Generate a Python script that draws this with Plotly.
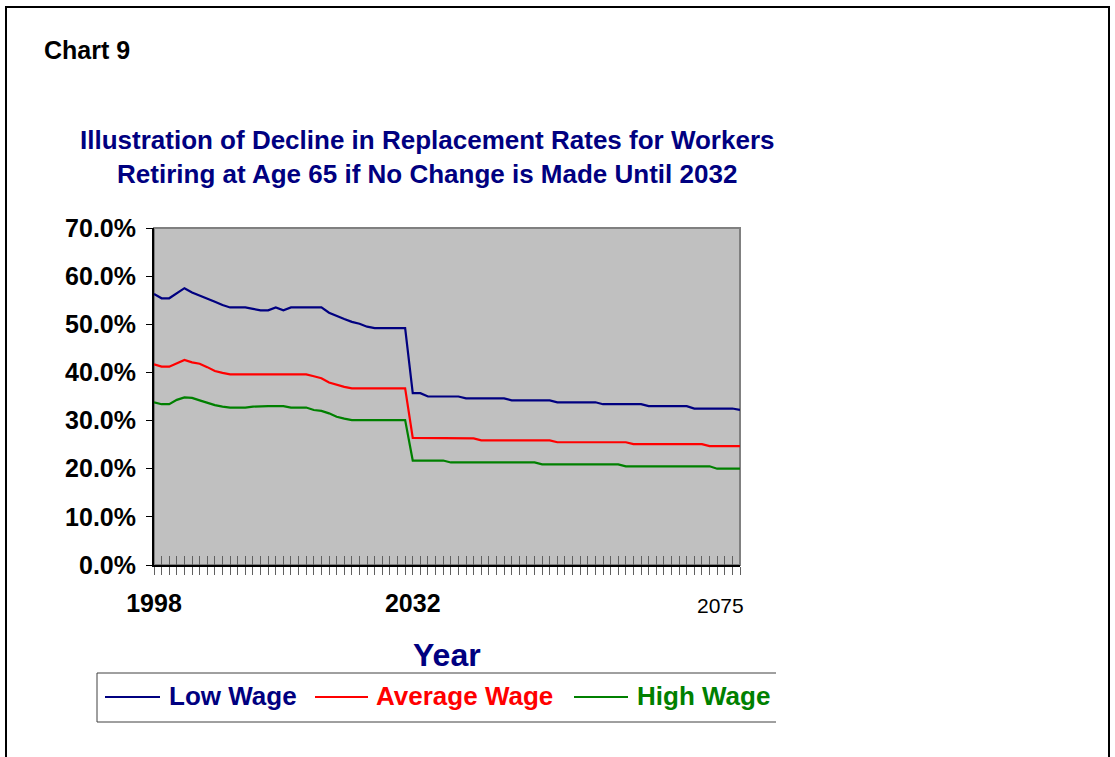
import plotly.graph_objects as go

# ---------------- data ----------------
years = list(range(1998, 2076))

low_wage = [56.3, 55.4, 55.4, 56.5, 57.5, 56.6, 56.0, 55.4, 54.7, 54.0,
            53.5, 53.5, 53.5, 53.2, 52.9, 52.9, 53.5, 52.9, 53.5, 53.5,
            53.5, 53.5, 53.5, 52.4, 51.7, 51.1, 50.5, 50.1, 49.5, 49.2,
            49.2, 49.2, 49.2, 49.2, 35.7, 35.7, 35.0, 35.0, 35.0, 35.0,
            35.0, 34.6, 34.6, 34.6, 34.6, 34.6, 34.6, 34.2, 34.2, 34.2,
            34.2, 34.2, 34.2, 33.8, 33.8, 33.8, 33.8, 33.8, 33.8, 33.4,
            33.4, 33.4, 33.4, 33.4, 33.4, 33.0, 33.0, 33.0, 33.0, 33.0,
            33.0, 32.5, 32.5, 32.5, 32.5, 32.5, 32.5, 32.2]

average_wage = [41.7, 41.2, 41.2, 41.9, 42.6, 42.1, 41.8, 41.1, 40.3, 39.9,
                39.6, 39.6, 39.6, 39.6, 39.6, 39.6, 39.6, 39.6, 39.6, 39.6,
                39.6, 39.2, 38.8, 37.9, 37.4, 37.0, 36.7, 36.7, 36.7, 36.7,
                36.7, 36.7, 36.7, 36.7, 26.4, 26.4, 26.4, 26.4, 26.4, 26.4,
                26.4, 26.4, 26.3, 25.9, 25.9, 25.9, 25.9, 25.9, 25.9, 25.9,
                25.9, 25.9, 25.9, 25.5, 25.5, 25.5, 25.5, 25.5, 25.5, 25.5,
                25.5, 25.5, 25.5, 25.1, 25.1, 25.1, 25.1, 25.1, 25.1, 25.1,
                25.1, 25.1, 25.1, 24.7, 24.7, 24.7, 24.7, 24.7]

high_wage = [33.8, 33.4, 33.4, 34.3, 34.8, 34.7, 34.2, 33.7, 33.2, 32.9,
             32.7, 32.7, 32.7, 32.9, 33.0, 33.0, 33.0, 33.0, 32.7, 32.7,
             32.7, 32.2, 32.0, 31.5, 30.8, 30.4, 30.1, 30.1, 30.1, 30.1,
             30.1, 30.1, 30.1, 30.1, 21.7, 21.7, 21.7, 21.7, 21.7, 21.3,
             21.3, 21.3, 21.3, 21.3, 21.3, 21.3, 21.3, 21.3, 21.3, 21.3,
             21.3, 20.9, 20.9, 20.9, 20.9, 20.9, 20.9, 20.9, 20.9, 20.9,
             20.9, 20.9, 20.5, 20.5, 20.5, 20.5, 20.5, 20.5, 20.5, 20.5,
             20.5, 20.5, 20.5, 20.5, 20.0, 20.0, 20.0, 20.0]

series_names = ["Low Wage", "Average Wage", "High Wage"]
series_colors = ["#000080", "#FF0000", "#008000"]
y_ticks = [0, 10, 20, 30, 40, 50, 60, 70]
x_labels = {1998: "1998", 2032: "2032"}
last_label = "2075"

# ---------------- layout geometry (pixels) ----------------
W_PX, H_PX = 1115, 757
L, R, T, B = 154, 740, 228, 565
PW, PH = R - L, B - T

def px(x):
    return (x - L) / PW

def py(y):
    return (B - y) / PH

FONT = "Liberation Sans, Arial, sans-serif"
NAVY = "#000080"

fig = go.Figure()
for name, vals, col in zip(series_names, [low_wage, average_wage, high_wage], series_colors):
    fig.add_trace(go.Scatter(x=years, y=vals, mode="lines", name=name,
                             line=dict(color=col, width=2.2), showlegend=False))

# invisible trace to carry the inner tick axis
fig.add_trace(go.Scatter(x=years, y=low_wage, xaxis="x2", mode="lines",
                         line=dict(width=0), opacity=0, showlegend=False,
                         hoverinfo="skip"))

tickvals = years
ticktext = [x_labels.get(y, "") for y in years]

fig.update_layout(
    width=W_PX, height=H_PX,
    margin=dict(l=L, r=W_PX - R, t=T, b=H_PX - B, pad=0),
    paper_bgcolor="white",
    plot_bgcolor="#C0C0C0",
    font=dict(family=FONT, color="black"),
    xaxis=dict(range=[1998, 2075], tickmode="array", tickvals=tickvals, ticktext=ticktext,
               ticks="outside", ticklen=8, tickcolor="#606060", tickwidth=1,
               showline=True, linecolor="black", linewidth=2,
               showgrid=False, zeroline=False,
               tickfont=dict(family=FONT, size=25, color="black", weight="bold"),
               ticklabelstandoff=7),
    xaxis2=dict(range=[1998, 2075], overlaying="x", anchor="y", side="bottom",
                tickmode="array", tickvals=tickvals, ticks="inside", ticklen=9,
                tickcolor="#606060", tickwidth=1, showticklabels=False,
                showline=False, showgrid=False, zeroline=False),
    yaxis=dict(range=[0, 70], tickmode="array", tickvals=y_ticks,
               ticktext=[f"{v:.1f}%" for v in y_ticks],
               ticks="outside", ticklen=6, tickcolor="black", tickwidth=1,
               showline=True, linecolor="black", linewidth=2,
               showgrid=False, zeroline=False,
               tickfont=dict(family=FONT, size=25, color="black", weight="bold"),
               ticklabelstandoff=5),
)

shapes = []
# plot-area border (gray top/right)
shapes.append(dict(type="rect", xref="paper", yref="paper", x0=0, x1=1, y0=0, y1=1,
                   line=dict(color="#808080", width=2), layer="below"))
# page frame
shapes.append(dict(type="path", xref="paper", yref="paper",
                   path=f"M {px(6)},{py(762)} L {px(6)},{py(7)} L {px(1109)},{py(7)} L {px(1109)},{py(762)}",
                   line=dict(color="black", width=2)))
# legend box (clipped at right)
shapes.append(dict(type="path", xref="paper", yref="paper",
                   path=f"M {px(776)},{py(673)} L {px(97)},{py(673)} L {px(97)},{py(722)} L {px(776)},{py(722)}",
                   line=dict(color="#404040", width=1)))
leg_lines = [(105, 160), (315, 368), (574, 628)]
leg_text_x = [167, 374, 635]
for (x0, x1), col in zip(leg_lines, series_colors):
    shapes.append(dict(type="line", xref="paper", yref="paper", x0=px(x0), x1=px(x1),
                       y0=py(697), y1=py(697), line=dict(color=col, width=2)))
fig.update_layout(shapes=shapes)

ann = []
ann.append(dict(text="Chart 9", xref="paper", yref="paper", x=px(42), y=py(50),
                xanchor="left", yanchor="middle", showarrow=False,
                font=dict(family=FONT, size=25, color="black", weight="bold")))
ann.append(dict(text="Illustration of Decline in Replacement Rates for Workers<br>"
                     "Retiring at Age 65 if No Change is Made Until 2032",
                xref="paper", yref="paper", x=px(427), y=py(157),
                xanchor="center", yanchor="middle", align="center", showarrow=False,
                font=dict(family=FONT, size=26, color=NAVY, weight="bold")))
ann.append(dict(text="Year", xref="paper", yref="paper", x=px(447), y=py(655),
                xanchor="center", yanchor="middle", showarrow=False,
                font=dict(family=FONT, size=32, color=NAVY, weight="bold")))
ann.append(dict(text=last_label, xref="x", yref="paper", x=2075, y=py(605),
                xanchor="right", yanchor="middle", xshift=6, showarrow=False,
                font=dict(family=FONT, size=21, color="black")))
for name, col, tx in zip(series_names, series_colors, leg_text_x):
    ann.append(dict(text=name, xref="paper", yref="paper", x=px(tx), y=py(696),
                    xanchor="left", yanchor="middle", showarrow=False,
                    font=dict(family=FONT, size=26, color=col, weight="bold")))
fig.update_layout(annotations=ann)

fig.write_html("out.html")
